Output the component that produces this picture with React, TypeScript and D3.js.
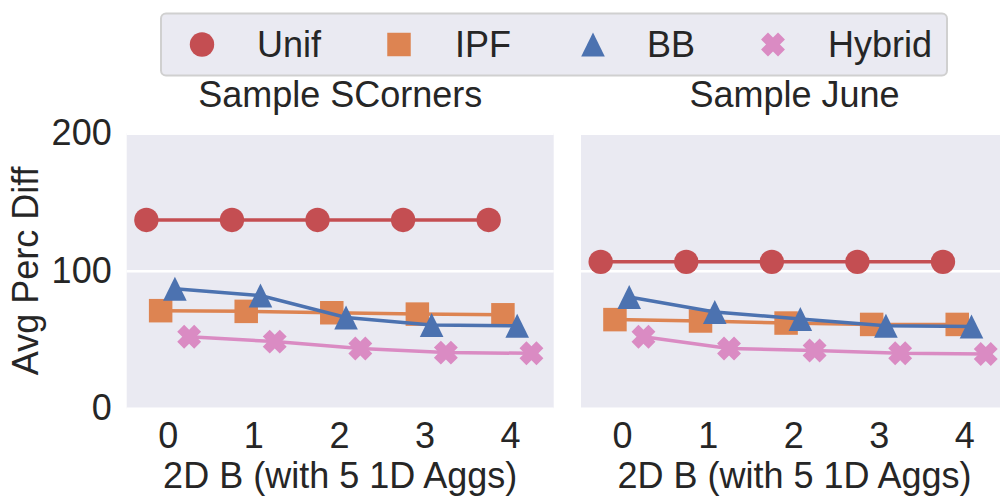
import { useEffect, useRef } from "react";
import * as d3 from "d3";

const xTicks = [0, 1, 2, 3, 4];
const yTicks = [0, 100, 200];
const seriesNames = ["Unif", "IPF", "BB", "Hybrid"];
const seriesColors = ["#C44E52", "#DD8452", "#4C72B0", "#DA8BC3"];
const panelTitles = ["Sample SCorners", "Sample June"];

// values read per panel, per series
const scornersUnif = [137, 137, 137, 137, 137];
const scornersIPF = [71, 70.5, 69.5, 68.5, 68];
const scornersBB = [87, 82, 66, 60.5, 60];
const scornersHybrid = [52, 48.5, 43.5, 40.5, 40];

const juneUnif = [106.5, 106.5, 106.5, 106.5, 106.5];
const juneIPF = [64.5, 63.5, 62, 61, 61];
const juneBB = [81, 70, 65, 60, 59.5];
const juneHybrid = [52, 43.5, 42, 40, 39.5];

const panels = [
  [scornersUnif, scornersIPF, scornersBB, scornersHybrid],
  [juneUnif, juneIPF, juneBB, juneHybrid],
];

const FONT = "'Liberation Sans', Arial, sans-serif";
const TEXT = "#262626";

function markerPath(kind: number): string {
  if (kind === 0) return d3.symbol(d3.symbolCircle, Math.PI * 12.2 * 12.2)()!;
  if (kind === 1) return d3.symbol(d3.symbolSquare, 23.5 * 23.5)()!;
  if (kind === 2) {
    const w = 11.8, h = 12;
    return `M0,${-h}L${w},${h}L${-w},${h}Z`;
  }
  // filled X: a plus rotated 45 degrees
  const a = 4.9, b = 12;
  const pts = [
    [-a, -b], [a, -b], [a, -a], [b, -a], [b, a], [a, a],
    [a, b], [-a, b], [-a, a], [-b, a], [-b, -a], [-a, -a],
  ];
  const c = Math.SQRT1_2;
  return (
    "M" +
    pts
      .map(([x, y]) => `${((x - y) * c).toFixed(2)},${((x + y) * c).toFixed(2)}`)
      .join("L") +
    "Z"
  );
}

export default function App() {
  const svgRef = useRef<SVGSVGElement>(null);

  useEffect(() => {
    if (!svgRef.current) return;
    const svg = d3.select(svgRef.current);
    svg.selectAll("*").remove();

    const top = 133.3;
    const bottom = 408.3;
    const panelW = 427;
    const panelLefts = [126.7, 581];
    const dodge = [-0.25, -1 / 12, 1 / 12, 0.25];

    const y = d3.scaleLinear().domain([0, 200]).range([bottom, top]);

    panels.forEach((series, pi) => {
      const left = panelLefts[pi];
      const x = d3
        .scaleLinear()
        .domain([-0.48, 4.51])
        .range([left, left + panelW]);

      const g = svg.append("g");

      g.append("rect")
        .attr("x", left)
        .attr("y", top)
        .attr("width", panelW)
        .attr("height", bottom - top)
        .attr("fill", "#EAEAF2");

      // Grid lines
      g.append("g")
        .attr("transform", `translate(${left},0)`)
        .call(d3.axisLeft(y).tickValues(yTicks).tickSize(-panelW).tickFormat(() => ""))
        .call((s) => s.select(".domain").remove())
        .call((s) =>
          s.selectAll(".tick line").attr("stroke", "#FFFFFF").attr("stroke-width", 2.5),
        );

      const plot = g.append("g");

      series.forEach((vals, si) => {
        const pts = vals.map((v, i) => [x(xTicks[i] + dodge[si]), y(v)] as [number, number]);
        plot
          .append("path")
          .datum(pts)
          .attr("d", d3.line())
          .attr("fill", "none")
          .attr("stroke", seriesColors[si])
          .attr("stroke-width", 3.5);
        plot
          .selectAll(`.m${si}`)
          .data(pts)
          .join("path")
          .attr("class", `m${si}`)
          .attr("transform", (d) => `translate(${d[0]},${d[1]})`)
          .attr("d", markerPath(si))
          .attr("fill", seriesColors[si]);
      });

      // X axis
      g.append("g")
        .attr("transform", `translate(0,${bottom})`)
        .call(d3.axisBottom(x).tickValues(xTicks).tickSize(0).tickPadding(14).tickFormat((d) => String(d)))
        .call((s) => s.select(".domain").remove())
        .call((s) =>
          s
            .selectAll(".tick text")
            .attr("fill", TEXT)
            .attr("font-size", "36px")
            .attr("font-family", FONT),
        );

      g.append("text")
        .attr("x", left + panelW / 2)
        .attr("y", 488)
        .attr("text-anchor", "middle")
        .attr("font-size", "36px")
        .attr("font-family", FONT)
        .attr("fill", TEXT)
        .text("2D B (with 5 1D Aggs)");

      g.append("text")
        .attr("x", left + panelW / 2)
        .attr("y", 107)
        .attr("text-anchor", "middle")
        .attr("font-size", "36px")
        .attr("font-family", FONT)
        .attr("fill", TEXT)
        .text(panelTitles[pi]);

      if (pi === 0) {
        g.append("g")
          .attr("transform", `translate(${left},0)`)
          .call(d3.axisLeft(y).tickValues(yTicks).tickSize(0).tickPadding(15))
          .call((s) => s.select(".domain").remove())
          .call((s) =>
            s
              .selectAll(".tick text")
              .attr("fill", TEXT)
              .attr("font-size", "36px")
              .attr("font-family", FONT),
          );

        g.append("text")
          .attr("transform", `translate(38,${(top + bottom) / 2}) rotate(-90)`)
          .attr("text-anchor", "middle")
          .attr("font-size", "36px")
          .attr("font-family", FONT)
          .attr("fill", TEXT)
          .text("Avg Perc Diff");
      }
    });

    // Legend
    const legend = svg.append("g");
    legend
      .append("rect")
      .attr("x", 161)
      .attr("y", 13.5)
      .attr("width", 786)
      .attr("height", 62)
      .attr("rx", 5)
      .attr("fill", "#EAEAF2")
      .attr("stroke", "#D0D0D0")
      .attr("stroke-width", 2);

    const markerX = [202, 399, 593, 773];
    const textX = [257, 455, 647, 828];
    seriesNames.forEach((name, si) => {
      legend
        .append("path")
        .attr("transform", `translate(${markerX[si]},44.5)`)
        .attr("d", markerPath(si))
        .attr("fill", seriesColors[si]);
      legend
        .append("text")
        .attr("x", textX[si])
        .attr("y", 57)
        .attr("font-size", "36px")
        .attr("font-family", FONT)
        .attr("fill", TEXT)
        .text(name);
    });
  }, []);

  return (
    <svg
      ref={svgRef}
      width={1000}
      height={498}
      style={{ position: "absolute", left: 0, top: 0, background: "#FFFFFF" }}
      role="img"
      aria-label="Avg Perc Diff by 2D B for two samples"
    />
  );
}
